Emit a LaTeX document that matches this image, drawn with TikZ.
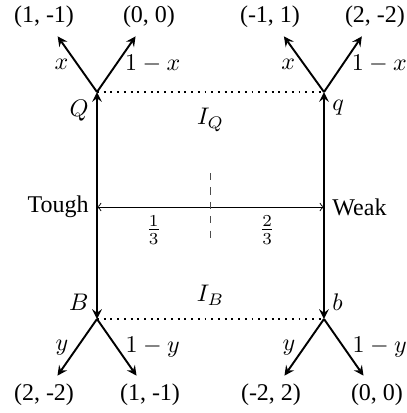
\documentclass[tikz,border=0pt]{standalone}
\usepackage{fontspec}
\setmainfont{Liberation Serif}
\begin{document}
\begin{tikzpicture}[x=0.4167pt, y=-0.4167pt,
    vertex/.style={inner sep=0pt, minimum size=0pt, outer sep=0pt},
    move/.style={-stealth, thick},
    info/.style={dotted, thick}]
    \useasboundingbox (0,0) rectangle (407,413);
    % Types
    \node[anchor=east] (tough) at (97,207) {Tough};
    \node[anchor=west] (weak) at (324,207) {Weak};
    \draw[<->] (tough) -- (weak)
        node[pos=0.25, below] {$\frac{1}{3}$}
        node[pos=0.75, below] {$\frac{2}{3}$};
    \draw[dashed, black!70] (210.5,173) -- (210.5,244);
    % Decision points
    \node[vertex, label={below left:$Q$}] (Q) at (97,92) {};
    \node[vertex, label={below right:$q$}] (q) at (324,92) {};
    \node[vertex, label={above left:$B$}] (B) at (97,319) {};
    \node[vertex, label={above right:$b$}] (b) at (324,319) {};
    \draw[move] (tough.east) -- (Q);
    \draw[move] (tough.east) -- (B);
    \draw[move] (weak.west) -- (q);
    \draw[move] (weak.west) -- (b);
    % Information sets
    \draw[info] (Q) -- (q) node[midway, below=3pt] {$I_Q$};
    \draw[info] (B) -- (b) node[midway, above=2pt] {$I_B$};
    % Payoffs, top
    \node (Qx) at (44,17) {(1, -1)};
    \node (Qy) at (149,17) {(0, 0)};
    \node (qx) at (270,17) {(-1, 1)};
    \node (qy) at (375,17) {(2, -2)};
    \draw[move] (Q) -- (Qx) node[midway, left] {$x$};
    \draw[move] (Q) -- (Qy) node[midway, right] {$1-x$};
    \draw[move] (q) -- (qx) node[midway, left] {$x$};
    \draw[move] (q) -- (qy) node[midway, right] {$1-x$};
    % Payoffs, bottom
    \node (By) at (44,395) {(2, -2)};
    \node (Bn) at (150,395) {(1, -1)};
    \node (by) at (271,395) {(-2, 2)};
    \node (bn) at (377,395) {(0, 0)};
    \draw[move] (B) -- (By) node[midway, left] {$y$};
    \draw[move] (B) -- (Bn) node[midway, right] {$1-y$};
    \draw[move] (b) -- (by) node[midway, left] {$y$};
    \draw[move] (b) -- (bn) node[midway, right] {$1-y$};
\end{tikzpicture}
\end{document}
